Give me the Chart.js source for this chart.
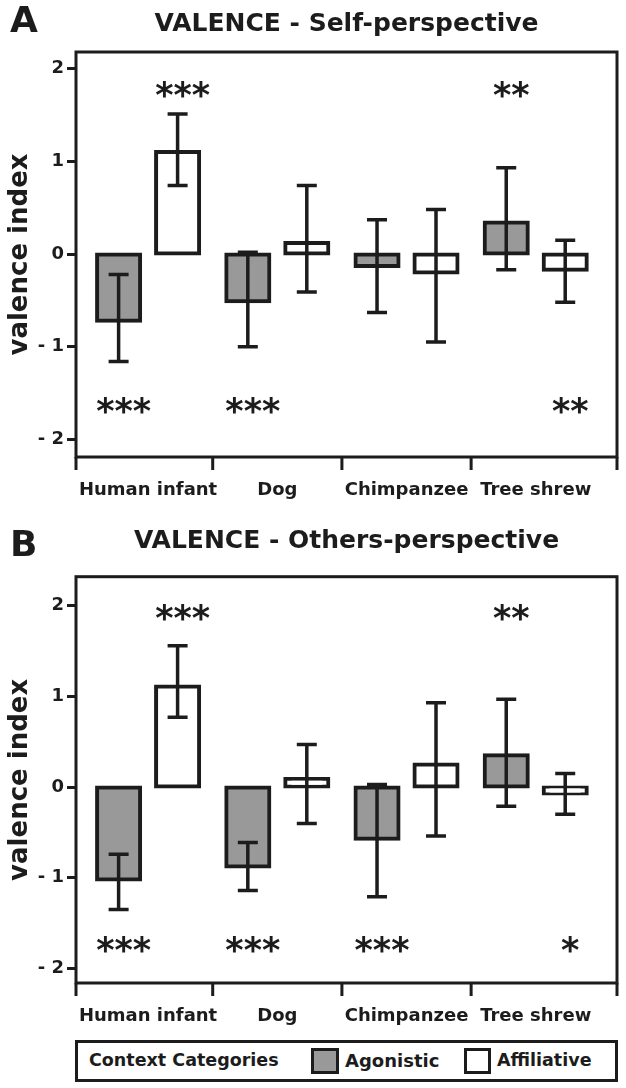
<!DOCTYPE html>
<html>
<head>
<meta charset="utf-8">
<script src="https://cdn.jsdelivr.net/npm/chart.js@4.4.1/dist/chart.umd.min.js"></script>
<style>
html,body{margin:0;padding:0;background:#fff;width:626px;height:1088px;overflow:hidden;}
canvas{position:absolute;left:0;}
.letter{position:absolute;left:10px;font:bold 36px "DejaVu Sans";line-height:36px;color:#1c1c1c;}
#legend{position:absolute;left:75px;top:1040px;width:543px;height:42px;border:3px solid #1c1c1c;box-sizing:border-box;background:#fff;font:bold 17.5px "DejaVu Sans";color:#1c1c1c;z-index:5;}
#legend span{position:absolute;top:50%;transform:translateY(-50%);white-space:nowrap;line-height:1;}
#legend i{position:absolute;top:5px;height:26px;border:3px solid #1c1c1c;box-sizing:border-box;}
</style>
</head>
<body>
<canvas id="chartA" width="626" height="515" style="top:0px"></canvas>
<canvas id="chartB" width="626" height="526" style="top:515px"></canvas>
<div class="letter" style="top:2px">A</div>
<div class="letter" style="top:526px">B</div>
<div id="legend">
  <span style="left:11px">Context Categories</span>
  <i style="left:233px;width:28px;background:#999999"></i>
  <span style="left:267px;font-size:18px">Agonistic</span>
  <i style="left:386px;width:27px;background:#ffffff"></i>
  <span style="left:419px">Affiliative</span>
</div>
<script>
// ---------- data ----------
const categories = ['Human infant', 'Dog', 'Chimpanzee', 'Tree shrew'];
const yTickValues = [-2, -1, 0, 1, 2];
const yTickLabels = ['- 2', '- 1', '0', '1', '2'];

// Panel A: VALENCE - Self-perspective
const selfAgonistic      = [-0.72, -0.51, -0.13, 0.34];
const selfAgonisticLow   = [-1.16, -1.00, -0.63, -0.17];
const selfAgonisticHigh  = [-0.22,  0.02,  0.37, 0.93];
const selfAffiliative     = [1.10,  0.12, -0.20, -0.17];
const selfAffiliativeLow  = [0.74, -0.41, -0.95, -0.52];
const selfAffiliativeHigh = [1.51,  0.74,  0.48,  0.15];
const selfAgonisticSig   = ['***', '***', '', '**'];
const selfAffiliativeSig = ['***', '', '', '**'];

// Panel B: VALENCE - Others-perspective
const othersAgonistic      = [-1.02, -0.875, -0.57, 0.35];
const othersAgonisticLow   = [-1.35, -1.14, -1.21, -0.21];
const othersAgonisticHigh  = [-0.74, -0.61,  0.03, 0.97];
const othersAffiliative     = [1.11,  0.09,  0.25, -0.07];
const othersAffiliativeLow  = [0.77, -0.40, -0.54, -0.30];
const othersAffiliativeHigh = [1.56,  0.47,  0.93,  0.15];
const othersAgonisticSig   = ['***', '***', '***', '**'];
const othersAffiliativeSig = ['***', '', '', '*'];

// ---------- styling ----------
const INK = '#1c1c1c';
const FONT = 'DejaVu Sans';
Chart.defaults.font.family = FONT;
Chart.defaults.color = INK;

const framePlugin = {
  id: 'frame',
  afterDatasetsDraw(chart) {
    const {ctx, chartArea: a, scales: {x}} = chart;
    ctx.save();
    ctx.strokeStyle = INK;
    ctx.lineWidth = 3;
    ctx.strokeRect(a.left, a.top, a.right - a.left, a.bottom - a.top);
    const marks = [a.left, a.right];
    for (let i = 0; i < categories.length - 1; i++) marks.push(x.getPixelForValue(i + 0.5));
    ctx.beginPath();
    marks.forEach(px => { ctx.moveTo(px, a.bottom); ctx.lineTo(px, a.bottom + 13); });
    ctx.stroke();
    ctx.restore();
  }
};

const errorBarPlugin = {
  id: 'errorBars',
  afterDatasetsDraw(chart) {
    const ctx = chart.ctx, y = chart.scales.y;
    ctx.save();
    ctx.strokeStyle = INK;
    ctx.lineWidth = 3.5;
    chart.data.datasets.forEach((ds, di) => {
      chart.getDatasetMeta(di).data.forEach((bar, i) => {
        const yl = y.getPixelForValue(ds.errLow[i]);
        const yh = y.getPixelForValue(ds.errHigh[i]);
        const x = bar.x, hw = 10;
        ctx.beginPath();
        ctx.moveTo(x, yl); ctx.lineTo(x, yh);
        ctx.moveTo(x - hw, yl); ctx.lineTo(x + hw, yl);
        ctx.moveTo(x - hw, yh); ctx.lineTo(x + hw, yh);
        ctx.stroke();
      });
    });
    ctx.restore();
  }
};

const starPlugin = {
  id: 'stars',
  afterDatasetsDraw(chart, args, opts) {
    const ctx = chart.ctx, y = chart.scales.y;
    ctx.save();
    ctx.font = 'bold 35px "' + FONT + '"';
    ctx.fillStyle = INK;
    ctx.textAlign = 'center';
    ctx.textBaseline = 'alphabetic';
    chart.data.datasets.forEach((ds, di) => {
      chart.getDatasetMeta(di).data.forEach((bar, i) => {
        const s = ds.sig[i];
        if (!s) return;
        const level = ds.data[i].y > 0 ? opts.above : opts.below;
        const cy = y.getPixelForValue(level);
        const m = ctx.measureText(s);
        const base = cy + (m.actualBoundingBoxAscent - m.actualBoundingBoxDescent) / 2;
        ctx.fillText(s, bar.x + 5, base);
      });
    });
    ctx.restore();
  }
};

function makePanel(id, cfg) {
  return new Chart(document.getElementById(id), {
    type: 'bar',
    data: {
      datasets: [
        {
          label: 'Agonistic',
          data: cfg.agon.map((v, i) => ({x: i, y: v})),
          errLow: cfg.agonLow, errHigh: cfg.agonHigh, sig: cfg.agonSig,
          backgroundColor: '#999999', borderColor: INK, borderWidth: 4, borderSkipped: false,
          inflateAmount: 2
        },
        {
          label: 'Affiliative',
          data: cfg.affil.map((v, i) => ({x: i, y: v})),
          errLow: cfg.affilLow, errHigh: cfg.affilHigh, sig: cfg.affilSig,
          backgroundColor: '#ffffff', borderColor: INK, borderWidth: 4, borderSkipped: false,
          inflateAmount: 2
        }
      ]
    },
    options: {
      responsive: false,
      animation: false,
      devicePixelRatio: 1,
      categoryPercentage: 0.913,
      barPercentage: 0.73,
      layout: {padding: {left: 0, right: 9, top: 0, bottom: 0}},
      plugins: {
        legend: {display: false},
        tooltip: {enabled: false},
        title: {
          display: true, text: cfg.title, fullSize: false, color: INK,
          font: {family: FONT, size: 25, weight: 'bold'},
          padding: {top: cfg.titleTop, bottom: cfg.titleBottom}
        },
        stars: {above: cfg.starAbove, below: cfg.starBelow}
      },
      scales: {
        x: {
          type: 'linear', min: -0.558, max: 3.629, offset: false,
          grid: {display: false, drawTicks: false, offset: false},
          border: {display: false},
          afterBuildTicks: s => { s.ticks = categories.map((c, i) => ({value: i})); },
          afterFit: s => { s.height = 58; },
          ticks: {
            callback: v => categories[v],
            autoSkip: false, maxRotation: 0, padding: 23,
            color: INK, font: {family: FONT, size: 18, weight: 'bold'}
          }
        },
        y: {
          min: cfg.yMin, max: cfg.yMax,
          grid: {display: true, drawOnChartArea: false, drawTicks: true, tickLength: 9, tickWidth: 3, tickColor: INK},
          border: {display: false},
          afterBuildTicks: s => { s.ticks = yTickValues.map(v => ({value: v})); },
          afterFit: s => { s.width = 76; },
          ticks: {
            callback: v => yTickLabels[yTickValues.indexOf(v)],
            padding: 3, color: INK, font: {family: FONT, size: 18, weight: 'bold'}
          },
          title: {
            display: true, text: 'valence index', color: INK,
            font: {family: FONT, size: 26, weight: 'bold'},
            padding: {top: 5, bottom: 0}
          }
        }
      }
    },
    plugins: [framePlugin, errorBarPlugin, starPlugin]
  });
}

makePanel('chartA', {
  title: 'VALENCE - Self-perspective', titleTop: 9, titleBottom: 13,
  yMin: -2.19, yMax: 2.18, starAbove: 1.78, starBelow: -1.63,
  agon: selfAgonistic, agonLow: selfAgonisticLow, agonHigh: selfAgonisticHigh, agonSig: selfAgonisticSig,
  affil: selfAffiliative, affilLow: selfAffiliativeLow, affilHigh: selfAffiliativeHigh, affilSig: selfAffiliativeSig
});

makePanel('chartB', {
  title: 'VALENCE - Others-perspective', titleTop: 11, titleBottom: 20.7,
  yMin: -2.16, yMax: 2.32, starAbove: 1.92, starBelow: -1.73,
  agon: othersAgonistic, agonLow: othersAgonisticLow, agonHigh: othersAgonisticHigh, agonSig: othersAgonisticSig,
  affil: othersAffiliative, affilLow: othersAffiliativeLow, affilHigh: othersAffiliativeHigh, affilSig: othersAffiliativeSig
});
</script>
</body>
</html>
